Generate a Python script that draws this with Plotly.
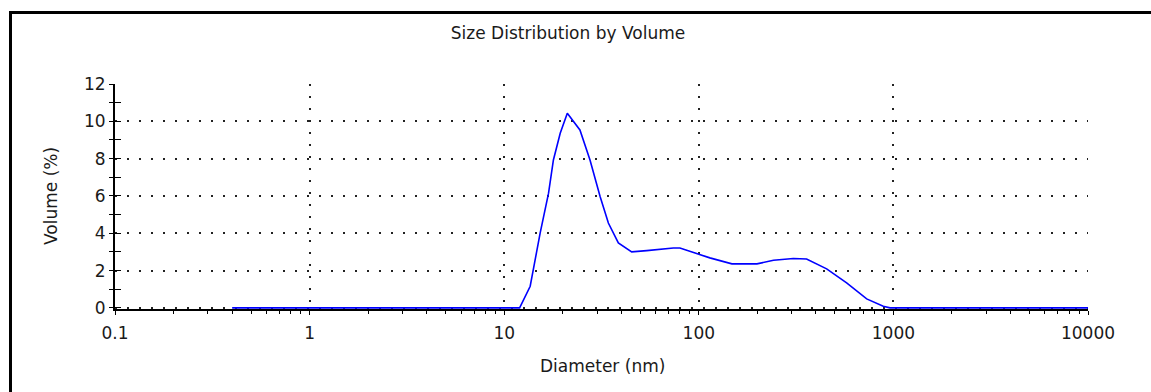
import plotly.graph_objects as go

# ---- data ----
diameter_nm = [0.4, 12.0, 13.6, 15.3, 16.9, 17.9, 19.4, 21.1, 24.5, 27.6, 31.1, 34.3,
               38.6, 45.2, 54.0, 65.7, 74.0, 80.0, 90.2, 114, 148, 199, 242, 306,
               358, 454, 575, 729, 887, 961, 10000]
volume_pct = [0, 0, 1.16, 4.01, 6.15, 7.93, 9.36, 10.43, 9.54, 7.93, 5.97, 4.55,
              3.48, 3.0, 3.07, 3.17, 3.21, 3.21, 3.03, 2.68, 2.36, 2.36, 2.55, 2.65,
              2.62, 2.09, 1.34, 0.48, 0.09, 0, 0]
x_tickvals = [0.1, 1, 10, 100, 1000, 10000]
x_ticktext = ["0.1", "1", "10", "100", "1000", "10000"]
y_tickvals = [0, 2, 4, 6, 8, 10, 12]

title_text = "Size Distribution by Volume"
x_title = "Diameter (nm)"
y_title = "Volume (%)"

# ---- layout geometry ----
W, H = 1151, 392
L, R, T, B = 115, 63, 84, 83
PW, PH = W - L - R, H - T - B
FONT = "DejaVu Sans"
FS = 17


def px_x(p):
    return (p - L) / PW


def px_y(p):
    return (H - B - p) / PH


fig = go.Figure()
fig.add_trace(go.Scatter(x=diameter_nm, y=volume_pct, mode="lines",
                         line=dict(color="#0000ff", width=1.6), showlegend=False,
                         hoverinfo="x+y"))
# overlay axis used only for the inner half of the y ticks
fig.add_trace(go.Scatter(x=[1], y=[None], yaxis="y2", showlegend=False, hoverinfo="skip"))

grid_dash = "2px,10px"
fig.update_layout(
    width=W, height=H,
    margin=dict(l=L, r=R, t=T, b=B),
    paper_bgcolor="white", plot_bgcolor="white",
    font=dict(family=FONT, size=FS, color="#1a1a1a"),
    title=dict(text=title_text, x=568 / W, xanchor="center", y=1 - 33 / H, yanchor="middle",
               font=dict(family=FONT, size=FS, color="#1a1a1a")),
    xaxis=dict(type="log", range=[-1, 4], tickvals=x_tickvals, ticktext=x_ticktext,
               showline=True, linecolor="black", linewidth=2,
               ticks="outside", ticklen=4, tickcolor="black", tickwidth=1,
               ticklabelstandoff=4,
               showgrid=True, gridcolor="#222222", gridwidth=1.6, griddash=grid_dash,
               minor=dict(ticks="outside", ticklen=3, tickcolor="black", dtick="D1",
                          showgrid=False),
               zeroline=False, layer="below traces", fixedrange=True),
    yaxis=dict(range=[-0.06, 12], tickvals=y_tickvals,
               showline=True, linecolor="black", linewidth=2,
               ticks="outside", ticklen=4, tickcolor="black", tickwidth=1,
               minor=dict(ticks="outside", ticklen=4, tickcolor="black", dtick=1,
                          showgrid=False),
               showgrid=True, gridcolor="#222222", gridwidth=1.6, griddash=grid_dash,
               zeroline=False, layer="below traces", fixedrange=True),
    yaxis2=dict(range=[-0.06, 12], overlaying="y", side="left", showgrid=False,
                showticklabels=False, ticks="inside", ticklen=6, dtick=1,
                tickcolor="black", tickwidth=1, zeroline=False, showline=False,
                fixedrange=True),
    annotations=[
        dict(text=x_title, xref="paper", yref="paper", x=px_x(602), y=px_y(366),
             xanchor="center", yanchor="middle", showarrow=False,
             font=dict(family=FONT, size=FS, color="#1a1a1a")),
        dict(text=y_title, xref="paper", yref="paper", x=px_x(51), y=px_y(196),
             xanchor="center", yanchor="middle", showarrow=False, textangle=-90,
             font=dict(family=FONT, size=FS, color="#1a1a1a")),
    ],
    shapes=[
        dict(type="rect", xref="paper", yref="paper",
             x0=px_x(10.5), x1=px_x(1154), y0=px_y(12.5), y1=px_y(400),
             line=dict(color="black", width=3), fillcolor="rgba(0,0,0,0)", layer="above"),
    ],
)

fig.write_html("out.html")
